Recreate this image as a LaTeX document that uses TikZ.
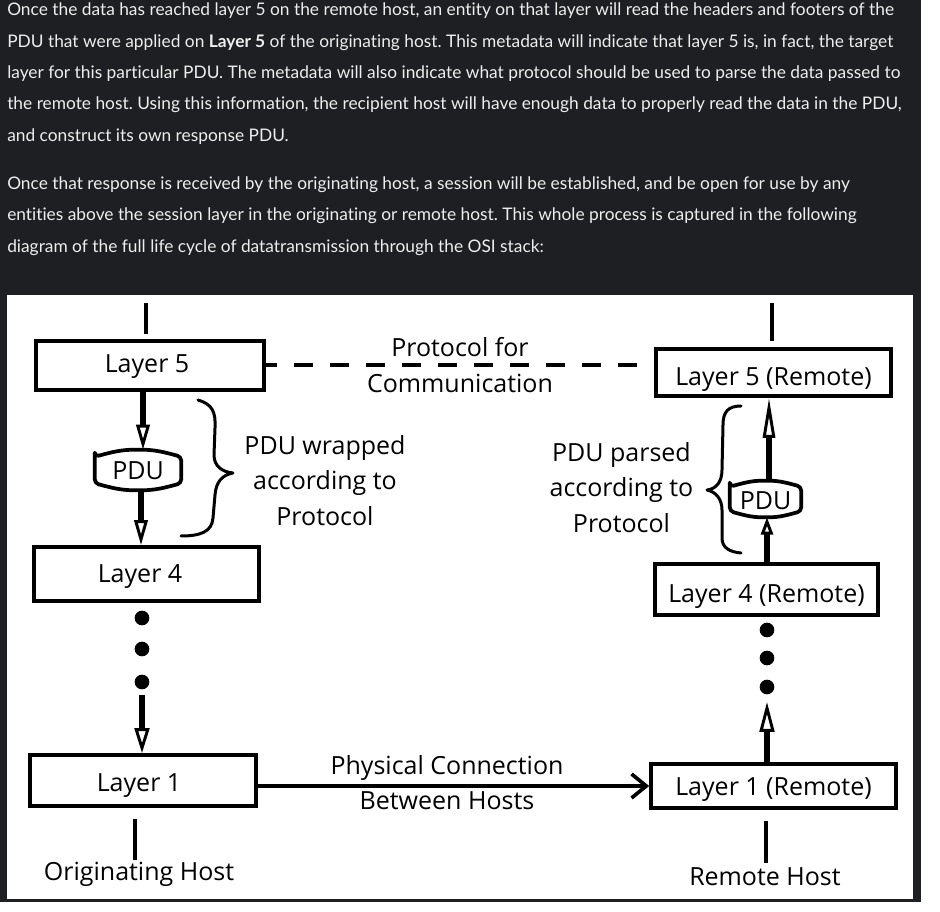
\documentclass[tikz,border=0pt]{standalone}
\usepackage{fontspec}
\setmainfont{Lato}[Ligatures={NoCommon}]
\newfontfamily\dfont{Open Sans}
\usetikzlibrary{arrows.meta}
\definecolor{darkbg}{RGB}{30,31,34}
\definecolor{lighttxt}{RGB}{238,238,238}
\frenchspacing
\begin{document}
\begin{tikzpicture}[x=0.75pt,y=-0.75pt,
  ptxt/.style={anchor=base west, inner sep=0pt, text=lighttxt, font=\fontsize{13pt}{15pt}\selectfont},
  dtxt/.style={anchor=base, inner sep=0pt, font=\dfont\fontsize{18.75pt}{22pt}\selectfont},
  box/.style={draw, line width=2.8pt, inner sep=0pt, text depth=0pt, font=\dfont\fontsize{18.75pt}{22pt}\selectfont},
  txshift/.style={execute at begin node={\hspace*{#1}}},
  pdun/.style={inner sep=0pt, text depth=0pt, font=\dfont\fontsize{18.75pt}{22pt}\selectfont},
  pduline/.style={line width=2.8pt, line join=round, rounded corners=3pt},
  dotn/.style={circle, fill, inner sep=0pt, minimum size=11pt},
  thk/.style={line width=4.2pt},
  stub/.style={line width=2.6pt},
  brc/.style={line width=2.25pt, line cap=round, line join=round},
  dashline/.style={line width=3pt, dash pattern=on 14pt off 13pt, dash phase=6pt},
  conn/.style={line width=2.75pt, -{Straight Barb[length=11pt,width=18pt,line width=2.75pt]}}
]
\useasboundingbox (0,0) rectangle (940,912);
\fill[white] (0,0) rectangle (940,912);
\fill[darkbg] (0,0) rectangle (921,902);
\fill[white] (7,295) rectangle (913,899);

% ---------- prose ----------
\node[ptxt] (t1) at (7,16) {Once the data has reached layer 5 on the remote host, an entity on that layer will read the headers and footers of the};
\node[ptxt] (t2) at (7,47.3) {PDU that were applied on \textbf{Layer 5} of the originating host. This metadata will indicate that layer 5 is, in fact, the target};
\node[ptxt] (t3) at (7,78.7) {layer for this particular PDU. The metadata will also indicate what protocol should be used to parse the data passed to};
\node[ptxt] (t4) at (7,110) {the remote host. Using this information, the recipient host will have enough data to properly read the data in the PDU,};
\node[ptxt] (t5) at (7,141.3) {and construct its own response PDU.};
\node[ptxt] (t6) at (7,189.5) {Once that response is received by the originating host, a session will be established, and be open for use by any};
\node[ptxt] (t7) at (7,221) {entities above the session layer in the originating or remote host. This whole process is captured in the following};
\node[ptxt] (t8) at (7,252.3) {diagram of the full life cycle of datatransmission through the OSI stack:};

% ---------- boxes ----------
\node[box, txshift=-4.5pt, minimum width=171pt, minimum height=36.75pt, text height=11.25pt] (L5) at (150,365.5) {Layer 5};
\node[box, txshift=-9.75pt, minimum width=168.75pt, minimum height=40.5pt, text height=13.5pt] (L4) at (146.5,574) {Layer 4};
\node[box, txshift=-6pt, minimum width=169.5pt, minimum height=38.25pt, text height=16.8pt] (L1) at (143,780.5) {Layer 1};
\node[box, minimum width=176.25pt, minimum height=35.25pt, text height=20.25pt] (R5) at (773.5,372.5) {Layer 5 (Remote)};
\node[box, minimum width=167.25pt, minimum height=38.25pt, text height=19.8pt] (R4) at (766.5,589.5) {Layer 4 (Remote)};
\node[box, minimum width=183.75pt, minimum height=33pt, text height=15pt] (R1) at (773.5,786) {Layer 1 (Remote)};

% ---------- PDU nodes ----------
\node[pdun, minimum width=64.5pt, minimum height=30pt, text height=15pt] (pdu1) at (138,470) {PDU};
\draw[pduline] ([yshift=-5.25pt]pdu1.north west) -- ([yshift=5.25pt]pdu1.south west)
  to[out=-15,in=180] (pdu1.south) to[out=0,in=195] ([yshift=5.25pt]pdu1.south east)
  -- ([yshift=-5.25pt]pdu1.north east) to[out=165,in=0] (pdu1.north) to[out=180,in=15] ([yshift=-5.25pt]pdu1.north west) -- cycle;
\node[pdun, minimum width=53.25pt, minimum height=27pt, text height=16.5pt] (pdu2) at (765.5,499) {PDU};
\draw[pduline] ([yshift=-4.5pt]pdu2.north west) -- ([yshift=4.5pt]pdu2.south west)
  to[out=-15,in=180] (pdu2.south) to[out=0,in=195] ([yshift=4.5pt]pdu2.south east)
  -- ([yshift=-4.5pt]pdu2.north east) to[out=165,in=0] (pdu2.north) to[out=180,in=15] ([yshift=-4.5pt]pdu2.north west) -- cycle;

% ---------- dots ----------
\node[dotn] (ld1) at (142,618) {};
\node[dotn] (ld2) at (142,649) {};
\node[dotn] (ld3) at (142,682) {};
\node[dotn] (rd1) at (767,630) {};
\node[dotn] (rd2) at (767,658) {};
\node[dotn] (rd3) at (767,687) {};

% ---------- helper x positions ----------
\coordinate (xa) at (143,0);
\coordinate (xb) at (141,0);
\coordinate (xr) at (767,0);
\coordinate (xs) at (769,0);

% ---------- vertical arrows ----------
\draw[thk, -{Triangle[open,length=18.75pt,width=10pt,line width=2.2pt]}] (xa |- L5.south) -- (xa |- pdu1.north);
\draw[thk, -{Triangle[open,length=18.75pt,width=10pt,line width=2.2pt]}] (xb |- pdu1.south) -- (xb |- L4.north);
\draw[thk, shorten <=4pt, -{Triangle[open,length=18.75pt,width=11pt,line width=2.2pt]}] (ld3) -- (ld3 |- L1.north);
\draw[thk, shorten >=5.5pt, -{Triangle[open,length=22.5pt,width=11pt,line width=2.2pt]}] (R1.north -| rd3) -- (rd3);
\draw[thk, -{Triangle[open,length=13pt,width=9pt,line width=2.2pt]}] (xr |- R4.north) -- (xr |- pdu2.south);
\draw[thk, -{Triangle[open,length=30pt,width=9pt,line width=2.2pt]}] (xs |- pdu2.north) -- (xs |- R5.south);

% ---------- stubs ----------
\coordinate (lt) at (146,303);
\coordinate (rt) at (772,303);
\coordinate (lb) at (135,860);
\coordinate (rb) at (766,863);
\draw[stub, shorten >=4pt] (lt) -- (lt |- L5.north);
\draw[stub, shorten >=4.5pt] (rt) -- (rt |- R5.north);
\draw[stub, shorten <=8.6pt] (lb |- L1.south) -- (lb);
\draw[stub, shorten <=8.6pt] (rb |- R1.south) -- (rb);

% ---------- horizontal connectors ----------
\draw[dashline] (L5.east) -- (R5.west |- L5.east);
\draw[conn] (L1.east |- R1.west) -- (R1.west);

% ---------- braces ----------
\draw[brc] (198,400) .. controls (212,404) and (216,412) .. (215,428) -- (214,455)
  .. controls (214,466) and (222,472) .. (233,473) .. controls (222,475) and (216,482) .. (215,495)
  -- (213,518) .. controls (212,532) and (200,536) .. (181,536);
\draw[brc] (741,406) .. controls (728,406) and (723,412) .. (723,425) -- (722,470)
  .. controls (722,482) and (716,489) .. (707,490) .. controls (716,492) and (722,499) .. (722,510)
  -- (722,538) .. controls (722,548) and (730,552) .. (741,553);

% ---------- labels ----------
\node[dtxt] (pf) at (460,357) {Protocol for};
\node[dtxt] (cm) at (460,393) {Communication};
\node[dtxt] (w1) at (325,455) {PDU wrapped};
\node[dtxt] (w2) at (325,490) {according to};
\node[dtxt] (w3) at (325,526) {Protocol};
\node[dtxt] (p1) at (621.5,461.5) {PDU parsed};
\node[dtxt] (p2) at (621.5,497) {according to};
\node[dtxt] (p3) at (621.5,533) {Protocol};
\node[dtxt] (pc1) at (447,775) {Physical Connection};
\node[dtxt] (pc2) at (447,810) {Between Hosts};
\node[dtxt] (oh) at (139,881) {Originating Host};
\node[dtxt] (rh) at (765,885) {Remote Host};
\end{tikzpicture}
\end{document}
